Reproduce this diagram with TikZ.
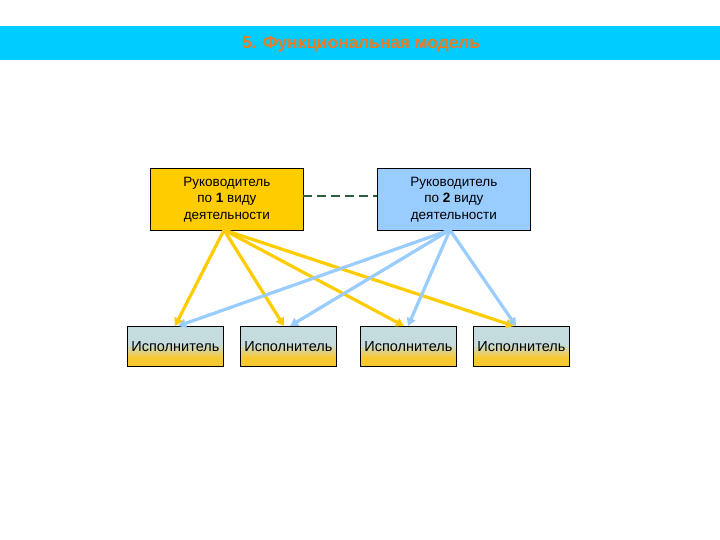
\documentclass[tikz,border=0pt]{standalone}
\usepackage{fontspec}
\setmainfont{Liberation Sans}
\usetikzlibrary{arrows.meta}
\definecolor{titlebar}{HTML}{00CCFF}
\definecolor{titletext}{HTML}{F07820}
\definecolor{boxyellow}{HTML}{FFCC00}
\definecolor{boxblue}{HTML}{99CCFF}
\definecolor{arryellow}{HTML}{FFCC00}
\definecolor{arrblue}{HTML}{99CCFF}
\definecolor{dashgreen}{HTML}{2F5F3A}
\definecolor{gradtop}{HTML}{C4DCDE}
\definecolor{gradbot}{HTML}{F8C830}
\pgfdeclareverticalshading{workshade}{100bp}{color(0bp)=(gradbot); color(36bp)=(gradbot); color(53bp)=(gradtop); color(75bp)=(gradtop); color(100bp)=(gradtop)}
\tikzset{
  x=1pt, y=-1pt,
  headbox/.style={draw=black, line width=0.8pt, minimum width=153pt, minimum height=62pt,
    inner sep=0pt, align=center, font=\fontsize{13.5}{16.5}\selectfont, anchor=north west},
  workbox/.style={draw=black, line width=0.8pt, minimum width=96pt, minimum height=40pt,
    inner sep=0pt, font=\fontsize{14.5}{16}\selectfont, anchor=north west,
    shading=workshade},
  yarr/.style={draw=arryellow, line width=3.2pt, -{Triangle[length=8pt,width=9pt]}},
  barr/.style={draw=arrblue, line width=3.2pt, -{Triangle[length=8pt,width=9pt]}},
}
\begin{document}
\begin{tikzpicture}
\useasboundingbox (0,0) rectangle (720,540);
\fill[white] (0,0) rectangle (720,540);
\fill[titlebar] (0,26) rectangle (720,60);
\node[font=\bfseries\fontsize{17.3}{19}\selectfont, text=titletext] (title) at (361,44) {5. Функциональная модель};
\node[headbox, fill=boxyellow] (h1) at (150,168) {Руководитель\\по \textbf{1} виду\\деятельности};
\node[headbox, fill=boxblue] (h2) at (377,168) {Руководитель\\по \textbf{2} виду\\деятельности};
\node[workbox] (w1) at (127,326) {Исполнитель};
\node[workbox] (w2) at (240,326) {Исполнитель};
\node[workbox] (w3) at (360,326) {Исполнитель};
\node[workbox] (w4) at (473,326) {Исполнитель};
\coordinate (dl) at (303,196);
\coordinate (dr) at (377,196);
\draw[dashgreen, line width=2pt, dash pattern=on 9pt off 5pt] (dl) -- (dr);
\coordinate (ys) at (224,230);
\coordinate (bs) at (450,230);
\draw[yarr] (ys) -- (w1.north west -| 175,0);
\draw[yarr] (ys) -- (w2.north west -| 284,0);
\draw[yarr] (ys) -- (w3.north west -| 404,0);
\draw[yarr] (ys) -- (w4.north west -| 514,0);
\draw[barr] (bs) -- (w1.north west -| 178,0);
\draw[barr] (bs) -- (w2.north west -| 290,0);
\draw[barr] (bs) -- (w3.north west -| 408,0);
\draw[barr] (bs) -- (w4.north west -| 516,0);
\end{tikzpicture}
\end{document}
